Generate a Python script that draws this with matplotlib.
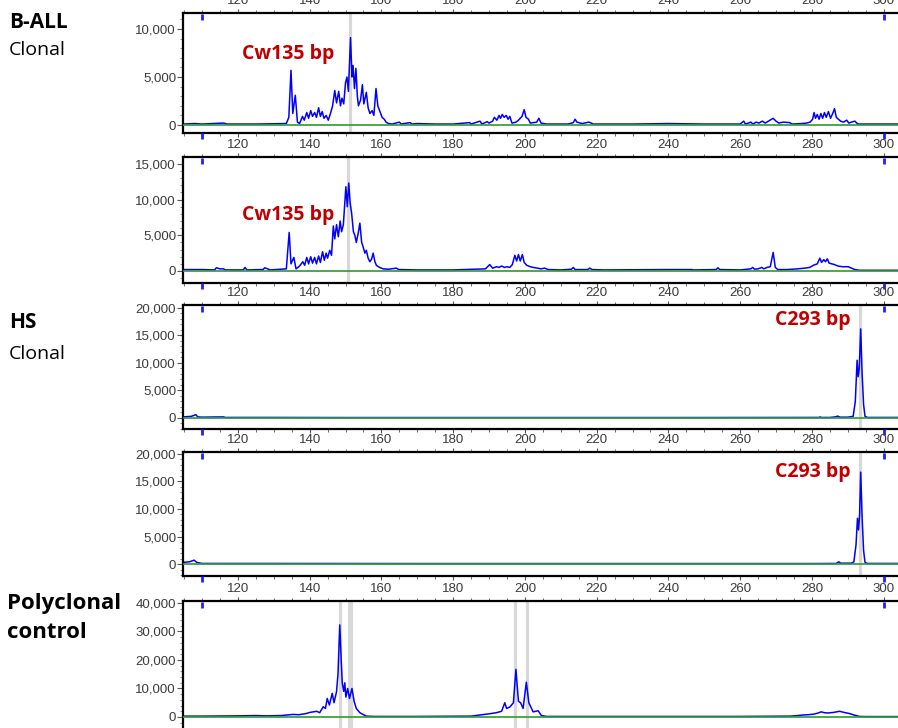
import numpy as np
import matplotlib.pyplot as plt
from matplotlib.ticker import MultipleLocator, StrMethodFormatter

plt.rcParams['font.family'] = ['Liberation Sans', 'DejaVu Sans']

# ---- data (size in bp, signal in RFU) ----
ball1_bp = [104.7, 108, 110, 116, 117, 125, 133.5, 134.2, 134.8, 135.3, 136.0, 136.6, 137.2, 138.0, 138.5,
            139.2, 139.7, 140.3, 140.8, 141.4, 141.9, 142.5, 143.0, 143.5, 144.0, 144.6, 145.2, 145.8, 146.4,
            147.0, 147.5, 148.1, 148.6, 149.0, 149.5, 150.0, 150.4, 150.8, 151.4, 151.8, 152.1, 152.5, 152.9,
            153.3, 153.6, 154.2, 154.7, 155.1, 155.8, 156.3, 156.8, 157.4, 157.9, 158.5, 159.0, 159.6, 160.2,
            160.8, 161.3, 162.0, 163, 165, 165.5, 168, 168.5, 170, 175, 180, 184.6, 185, 187.5, 188, 189.5,
            190, 191, 191.5, 192.2, 192.8, 193.2, 193.7, 194.2, 194.8, 195.3, 195.8, 196.4, 197.5, 198.2,
            199.2, 199.8, 200.3, 201, 201.5, 203.3, 203.9, 204.5, 206, 212, 213.5, 214, 214.5, 216, 217.8,
            218.5, 219, 230, 240, 250, 260, 261, 261.5, 263, 263.5, 264.5, 265.2, 266.2, 267, 268.3, 269.2,
            270, 270.8, 272, 273.8, 274.5, 277, 278.5, 279.5, 280.2, 280.6, 281, 281.5, 282.0, 282.5, 283,
            283.5, 284, 284.6, 285.2, 285.8, 286.3, 286.8, 287.4, 288, 288.8, 289.7, 290.3, 291, 292, 292.5,
            293, 300, 304]
ball1_rfu = [100, 150, 100, 200, 100, 100, 150, 800, 5700, 1200, 3100, 300, 150, 900, 500,
             1300, 700, 1500, 900, 1300, 800, 1800, 900, 1400, 700, 1000, 500, 1200, 2000,
             3600, 2300, 3500, 2000, 2800, 2200, 4400, 5000, 3500, 9100, 5000, 6200, 3800, 5900,
             3000, 2000, 2600, 4200, 2200, 3400, 1800, 1200, 1500, 1000, 3800, 2000, 1400, 800,
             600, 300, 150, 100, 300, 100, 250, 100, 150, 100, 100, 250, 100, 400, 100, 350,
             200, 400, 800, 500, 1000, 700, 1100, 800, 1000, 600, 900, 200, 300, 500,
             900, 1600, 800, 600, 200, 300, 700, 200, 100, 100, 250, 600, 300, 150, 300,
             200, 100, 100, 150, 100, 100, 400, 100, 300, 100, 300, 200, 400, 200, 500, 700,
             400, 200, 300, 250, 100, 150, 200, 300, 600, 1300, 700, 1100, 600, 1200, 700,
             1300, 800, 1400, 700, 1200, 1700, 800, 600, 400, 300, 500, 200, 300, 400, 200,
             100, 100, 100]

ball2_bp = [104.7, 110, 113.5, 114, 115, 116, 116.5, 121.5, 122, 122.5, 127, 127.5, 128.3, 129, 133.5,
            134.3, 134.8, 135.6, 136.2, 137, 137.5, 138.1, 138.6, 139.2, 139.7, 140.3, 140.8, 141.4, 141.9,
            142.5, 143.0, 143.6, 144.1, 144.6, 145.0, 145.6, 146.1, 146.6, 147.0, 147.5, 148.0, 148.5, 148.9,
            149.4, 149.7, 150.1, 150.5, 150.9, 151.3, 151.7, 152.2, 152.6, 153.0, 153.5, 154.0, 154.5, 154.9,
            155.4, 155.8, 156.3, 156.8, 157.3, 157.7, 158.2, 158.6, 159.5, 160.5, 162, 164.2, 164.8, 170,
            180, 189, 190.2, 191, 192.1, 192.8, 193.5, 194.3, 195, 195.8, 196.5, 197.2, 197.7, 198.2, 198.7,
            199.3, 199.8, 200.5, 201.5, 202.3, 203.5, 204.5, 205.5, 206.5, 210, 213, 213.5, 214, 217.5,
            218.1, 218.7, 222, 237.5, 240, 246.5, 247, 253.3, 253.8, 254.3, 260, 263, 263.5, 264, 265, 266,
            266.6, 267.5, 268.4, 269.2, 269.8, 270.5, 273, 276, 278, 279.4, 280.4, 281.5, 282.2, 282.7, 283.3,
            283.8, 284.3, 284.8, 285.5, 286.3, 287.2, 288.5, 290.1, 291, 292, 293.3, 304]
ball2_rfu = [200, 200, 150, 450, 300, 300, 150, 150, 500, 150, 200, 450, 300, 150, 300,
             5400, 1000, 1900, 300, 600, 900, 1300, 800, 1900, 1000, 2000, 1100, 1900, 1000,
             2100, 1200, 2700, 1500, 2500, 1800, 2900, 2200, 6300, 4500, 6500, 4800, 7000, 5500,
             6500, 8800, 11800, 9000, 12300, 9500, 8100, 5500, 5000, 4000, 5200, 6700, 4000, 3400,
             2500, 2900, 1800, 1300, 1700, 2500, 1300, 800, 500, 300, 250, 400, 200, 150,
             150, 300, 900, 400, 600, 500, 700, 500, 600, 500, 900, 2200, 1400, 2300, 1400,
             2300, 1200, 800, 600, 500, 400, 300, 400, 200, 150, 250, 500, 200, 200,
             400, 200, 150, 200, 200, 200, 150, 200, 450, 200, 150, 300, 500, 250, 300, 500,
             300, 500, 600, 2600, 500, 200, 200, 300, 400, 500, 800, 1000, 1800, 1200, 1600,
             1300, 1700, 1100, 1000, 900, 700, 600, 600, 400, 200, 100, 100]

hs1_bp = [104.7, 107, 108.3, 108.8, 110, 116, 116.5, 130, 150, 200, 240, 282, 282.3, 282.6, 285, 286.5,
          287.2, 287.8, 290, 291.5, 292.1, 292.6, 292.9, 293.2, 293.6, 294.0, 294.4, 294.8, 295.5, 304]
hs1_rfu = [200, 300, 600, 200, 150, 200, 100, 100, 80, 80, 80, 100, 200, 100, 100, 200,
           350, 150, 150, 300, 3000, 10500, 7500, 9000, 16200, 8000, 2500, 300, 100, 100]

hs2_bp = [104.7, 106.5, 107.8, 108.5, 110, 115, 130, 170, 200, 260, 280, 286.8, 287.5, 288, 291, 291.7,
          292.3, 292.7, 293.0, 293.3, 293.6, 294.0, 294.4, 294.8, 295.5, 304]
hs2_rfu = [300, 400, 700, 300, 100, 100, 100, 80, 80, 80, 80, 100, 400, 150, 150, 400,
           3500, 8300, 6200, 9000, 16700, 8500, 2500, 300, 100, 100]

poly_bp = [104.7, 110, 120, 125, 128, 132, 135.4, 137, 139, 140, 141, 142, 142.8, 143.8, 144.4, 144.9,
           145.5, 146.3, 146.8, 147.5, 147.9, 148.4, 148.8, 149.1, 149.5, 149.8, 150.1, 150.6, 151.1,
           151.8, 152.4, 153.0, 154.0, 155.0, 155.8, 158, 170, 185, 189.3, 190.5, 192, 193.5, 194.4,
           194.9, 195.8, 196.8, 197.5, 198.2, 198.8, 199.5, 200.4, 201.1, 202.3, 203.7, 204.6, 206, 220,
           260, 274, 276, 277.5, 279, 280.5, 281.5, 282.6, 283.5, 284.5, 286, 287.7, 289, 290.5, 292,
           293.3, 295, 304]
poly_rfu = [300, 300, 400, 500, 400, 500, 900, 800, 1200, 1600, 1800, 2000, 1500, 3600, 3000, 6500,
            4200, 8300, 5000, 8900, 15000, 32300, 20000, 11800, 9000, 12000, 7000, 10000, 6500,
            10000, 5500, 3000, 1500, 800, 300, 200, 200, 300, 1000, 1200, 1500, 2000, 5000,
            3000, 3500, 5000, 16700, 5500, 5000, 3000, 12200, 5000, 1800, 2200, 500, 200, 200,
            200, 300, 500, 700, 800, 1000, 1300, 1800, 1500, 1400, 1600, 2000, 1600, 1200, 600,
            200, 150, 150]

ball1_calls = [151.3]
ball2_calls = [150.8]
hs_calls = [293.5]
poly_calls = [148.4, 150.9, 151.6, 197.3, 200.5]

size_ticks = [120, 140, 160, 180, 200, 220, 240, 260, 280, 300]
marker_bp = [110, 300]

W, H = 898, 728
fig = plt.figure(figsize=(W / 100, H / 100), dpi=100)

# panel boxes in pixels: top, bottom, ylim, major step, minor step
panels = [
    (ball1_bp, ball1_rfu, ball1_calls, 13, 133, (-833, 11670), 5000, 1000),
    (ball2_bp, ball2_rfu, ball2_calls, 157, 283, (-1680, 15960), 5000, 1000),
    (hs1_bp, hs1_rfu, hs_calls, 305, 429, (-2000, 20545), 5000, 1000),
    (hs2_bp, hs2_rfu, hs_calls, 452, 576, (-2180, 20360), 5000, 1000),
    (poly_bp, poly_rfu, poly_calls, 601, 728, (-3860, 40700), 10000, 2000),
]

left_px = 183
axes = []
for i, (bp, rfu, calls, top, bot, ylim, major, minor) in enumerate(panels):
    ax = fig.add_axes([left_px / W, 1 - bot / H, (W - left_px) / W, (bot - top) / H])
    axes.append(ax)
    for c in calls:
        ax.axvline(c, color='#d8d8d8', lw=2.3, zorder=0)
    ax.plot(bp, rfu, color='#0000ff', lw=1.1, zorder=2)
    ax.plot([104.7, 304], [0, 0], color='#2e9a2e', lw=1.2, zorder=3)
    ax.set_xlim(104.7, 304)
    ax.set_ylim(*ylim)
    ax.set_xticks(size_ticks)
    ax.xaxis.set_minor_locator(MultipleLocator(5))
    ax.yaxis.set_major_locator(MultipleLocator(major))
    ax.yaxis.set_minor_locator(MultipleLocator(minor))
    ax.yaxis.set_major_formatter(StrMethodFormatter('{x:,.0f}'))
    ax.set_yticks([t for t in ax.get_yticks() if 0 <= t <= ylim[1]])
    ax.tick_params(axis='x', which='both', top=True, labeltop=True, bottom=True, labelbottom=False,
                   direction='out', color='#555555')
    ax.tick_params(axis='x', which='major', length=3, pad=1, labelsize=9.5, labelcolor='#3a3a3a')
    ax.tick_params(axis='x', which='minor', length=2)
    ax.tick_params(axis='y', which='major', length=4, pad=1, labelsize=9.5, labelcolor='#3a3a3a',
                   color='#555555')
    ax.tick_params(axis='y', which='minor', length=2, color='#777777')
    for s in ['top', 'bottom', 'left']:
        ax.spines[s].set_linewidth(1.6)
    ax.spines['right'].set_visible(False)
    if i == 4:
        ax.spines['bottom'].set_visible(False)
    for m in marker_bp:
        ax.plot([m], [0.97], transform=ax.get_xaxis_transform(), marker='|', ms=4, mew=2,
                color='#2020ff', clip_on=False, zorder=5)
        if i < 4:
            ax.plot([m], [-0.025], transform=ax.get_xaxis_transform(), marker='|', ms=4, mew=2,
                    color='#2020ff', clip_on=False, zorder=5)

# peak call labels
red = '#c00000'
axes[0].text(121.1, 7400, 'Cw135 bp', color=red, fontsize=14, fontweight='bold',
             family='Open Sans', va='center', ha='left')
axes[1].text(121.1, 7840, 'Cw135 bp', color=red, fontsize=14, fontweight='bold',
             family='Open Sans', va='center', ha='left')
axes[2].text(290.8, 17800, 'C293 bp', color=red, fontsize=14, fontweight='bold',
             family='Open Sans', va='center', ha='right')
axes[3].text(290.8, 16700, 'C293 bp', color=red, fontsize=14, fontweight='bold',
             family='Open Sans', va='center', ha='right')

# sample labels on the left
def label(x, y, s, bold, size):
    fig.text(x / W, 1 - y / H, s, fontsize=size, family='Open Sans',
             fontweight='bold' if bold else 'normal', va='center', ha='left')

label(9, 22, 'B-ALL', True, 15)
label(9, 50, 'Clonal', False, 14)
label(9, 323, 'HS', True, 15)
label(9, 354, 'Clonal', False, 14)
label(7, 603, 'Polyclonal', True, 16)
label(7, 633, 'control', True, 16)

fig.savefig('out.png', dpi=100)
